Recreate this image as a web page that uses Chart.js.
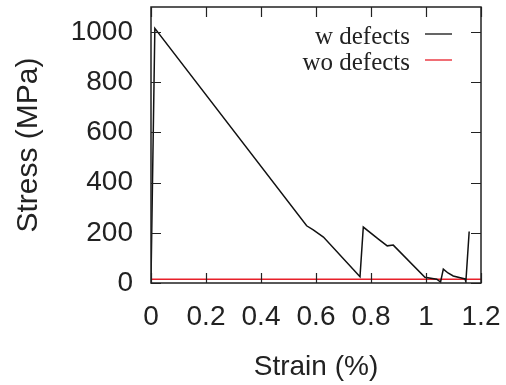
<!DOCTYPE html>
<html lang="en">
<head>
    <meta charset="UTF-8">
    <title>Stress vs Strain</title>
    <script src="https://cdn.jsdelivr.net/npm/chart.js"></script>
    <style>
        html, body { margin: 0; padding: 0; background: white; }
        .chart-container { position: relative; width: 506px; height: 385px; }
    </style>
</head>
<body>
    <div class="chart-container">
        <canvas id="stressChart"></canvas>
    </div>

    <script>
        // strain (%) / stress (MPa)
        const withDefectsStrain = [0, 0.014, 0.566, 0.59, 0.627, 0.76, 0.772, 0.827, 0.859, 0.881, 0.996, 1.039, 1.053, 1.063, 1.08, 1.099, 1.142, 1.145, 1.157];
        const withDefectsStress = [10, 1015, 228, 212, 183, 25, 223, 175, 148, 151, 23, 15, 4, 55, 40, 28, 16, 5, 205];
        const noDefectsStrain = [0, 1.2];
        const noDefectsStress = [15, 15];

        const seriesLabels = ['w defects', 'wo defects'];
        const xTicks = [0, 0.2, 0.4, 0.6, 0.8, 1, 1.2];
        const yTicks = [0, 200, 400, 600, 800, 1000];

        const toPoints = (xs, ys) => xs.map((x, i) => ({ x: x, y: ys[i] }));

        // fixed box sizes, no extra room for half tick labels
        const fixBox = size => s => {
            if (s.isHorizontal()) s.height = size; else s.width = size;
            s.paddingTop = s.paddingBottom = s.paddingLeft = s.paddingRight = 0;
        };

        // frame, inward ticks on all four sides, and a gnuplot-style key
        const framePlugin = {
            id: 'frame',
            afterDraw(chart) {
                const ctx = chart.ctx;
                const a = chart.chartArea;
                const xs = chart.scales.x, ys = chart.scales.y;
                const len = 10;
                ctx.save();
                ctx.strokeStyle = '#222';
                ctx.lineWidth = 1.2;
                ctx.beginPath();
                xTicks.forEach(v => {
                    const px = Math.round(xs.getPixelForValue(v)) + 0.5;
                    ctx.moveTo(px, a.bottom); ctx.lineTo(px, a.bottom - len);
                    ctx.moveTo(px, a.top); ctx.lineTo(px, a.top + len);
                });
                yTicks.forEach(v => {
                    const py = Math.round(ys.getPixelForValue(v)) + 0.5;
                    ctx.moveTo(a.left, py); ctx.lineTo(a.left + len, py);
                    ctx.moveTo(a.right, py); ctx.lineTo(a.right - len, py);
                });
                ctx.stroke();
                ctx.lineWidth = 1.5;
                ctx.strokeRect(a.left, a.top, a.right - a.left, a.bottom - a.top);

                // key
                ctx.font = '25px "Liberation Serif", "DejaVu Serif", serif';
                ctx.textAlign = 'right';
                ctx.textBaseline = 'alphabetic';
                ctx.fillStyle = '#222';
                chart.data.datasets.forEach((ds, i) => {
                    const y = 44 + i * 26;
                    ctx.fillText(ds.label, 410, y);
                    ctx.strokeStyle = ds.borderColor;
                    ctx.lineWidth = 1.3;
                    ctx.beginPath();
                    ctx.moveTo(425, y - 10);
                    ctx.lineTo(452, y - 10);
                    ctx.stroke();
                });
                ctx.restore();
            }
        };

        const sansFont = { family: '"Liberation Sans", Arial, sans-serif', size: 28 };

        new Chart(document.getElementById('stressChart'), {
            type: 'line',
            data: {
                datasets: [{
                    label: seriesLabels[0],
                    data: toPoints(withDefectsStrain, withDefectsStress),
                    borderColor: '#111111',
                    borderWidth: 1.5,
                    pointRadius: 0,
                    tension: 0,
                    fill: false
                }, {
                    label: seriesLabels[1],
                    data: toPoints(noDefectsStrain, noDefectsStress),
                    borderColor: '#e8202a',
                    borderWidth: 1.5,
                    pointRadius: 0,
                    tension: 0,
                    fill: false
                }]
            },
            options: {
                responsive: true,
                maintainAspectRatio: false,
                animation: false,
                layout: { autoPadding: false, padding: { top: 7, right: 25, left: 0, bottom: 0 } },
                plugins: {
                    legend: { display: false },
                    tooltip: { enabled: false }
                },
                scales: {
                    x: {
                        type: 'linear',
                        min: 0,
                        max: 1.2,
                        afterBuildTicks: s => { s.ticks = xTicks.map(v => ({ value: v })); },
                        afterFit: fixBox(102),
                        grid: { display: false, drawTicks: false },
                        border: { display: false },
                        ticks: {
                            font: sansFont,
                            color: '#222',
                            padding: 17,
                            maxRotation: 0,
                            callback: v => String(v)
                        },
                        title: {
                            display: true,
                            text: 'Strain (%)',
                            font: sansFont,
                            color: '#222',
                            padding: { top: 11, bottom: 1 }
                        }
                    },
                    y: {
                        type: 'linear',
                        min: 0,
                        max: 1100,
                        afterBuildTicks: s => { s.ticks = yTicks.map(v => ({ value: v })); },
                        afterFit: fixBox(151),
                        grid: { display: false, drawTicks: false },
                        border: { display: false },
                        ticks: {
                            font: sansFont,
                            color: '#222',
                            padding: 18,
                            callback: v => String(v)
                        },
                        title: {
                            display: true,
                            text: 'Stress (MPa)',
                            font: { family: '"Liberation Sans", Arial, sans-serif', size: 30 },
                            color: '#222',
                            padding: { top: 11, bottom: 0 }
                        }
                    }
                }
            },
            plugins: [framePlugin]
        });
    </script>
</body>
</html>
